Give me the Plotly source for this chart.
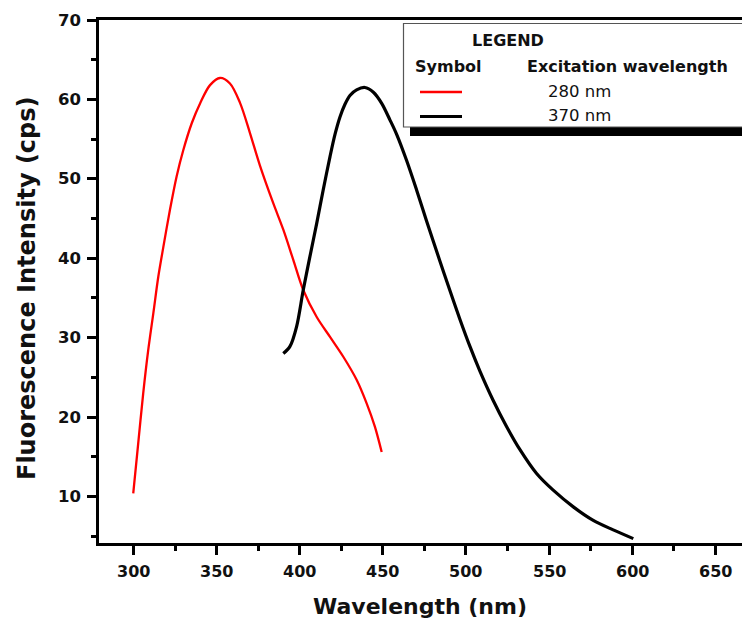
import plotly.graph_objects as go

# Data
wl_280 = [299.8, 302.8, 305.8, 308.8, 311.9, 314.9, 317.9, 321.9, 325.9, 329.9, 335.0, 340.0,
          346.0, 352.0, 358.0, 364.0, 370.0, 376.0, 384.1, 390.1, 396.1, 402.1, 410.2, 418.2,
          426.2, 434.2, 440.3, 445.2, 449.3]
int_280 = [10.4, 16.7, 23.0, 28.4, 33.1, 37.7, 41.4, 46.1, 50.3, 53.6, 57.0, 59.5,
           61.8, 62.7, 62.0, 59.6, 55.8, 51.7, 46.9, 43.6, 39.8, 36.0, 32.6, 30.1,
           27.6, 24.7, 21.7, 18.8, 15.6]

wl_370 = [390.1, 394.1, 398.1, 402.1, 406.1, 410.2, 414.1, 418.2, 421.2, 424.2, 427.2, 430.2,
          434.2, 439.2, 444.3, 449.3, 454.3, 458.3, 464.3, 470.3, 476.3, 484.4, 490.4, 496.4,
          502.4, 508.4, 516.4, 524.5, 532.5, 542.5, 552.5, 564.6, 576.6, 588.6, 600.7]
int_370 = [28.0, 28.9, 31.4, 36.0, 40.2, 44.4, 48.6, 52.8, 55.6, 57.8, 59.4, 60.5,
           61.2, 61.5, 60.9, 59.5, 57.4, 55.6, 52.3, 48.6, 44.7, 39.6, 35.9, 32.3,
           28.9, 25.8, 22.1, 18.8, 15.9, 12.9, 10.8, 8.7, 7.0, 5.8, 4.7]

x_ticks = [300, 350, 400, 450, 500, 550, 600, 650]
y_ticks = [10, 20, 30, 40, 50, 60, 70]

W, H = 742, 622
L, R, T, B = 99, 0, 20, 79
PW, PH = W - L - R, H - T - B

def px(x):
    return (x - L) / PW

def py(y):
    return (H - B - y) / PH

FONT = "DejaVu Sans, Arial, sans-serif"
INK = "#111111"

fig = go.Figure()
fig.add_trace(go.Scatter(x=wl_280, y=int_280, mode="lines",
                         line=dict(color="#ff0000", width=2.3, shape="spline", smoothing=0.9),
                         name="280 nm", showlegend=False))
fig.add_trace(go.Scatter(x=wl_370, y=int_370, mode="lines",
                         line=dict(color="#000000", width=3.2, shape="spline", smoothing=0.9),
                         name="370 nm", showlegend=False))

axis_common = dict(showgrid=False, zeroline=False, showline=True, linecolor="black", linewidth=3,
                   ticks="outside", ticklen=9, tickwidth=2.5, tickcolor="black",
                   showticklabels=False)

fig.update_xaxes(range=[279.2, 666.1], tickvals=x_ticks, mirror=True,
                 minor=dict(ticks="outside", ticklen=5, tickwidth=2.5, dtick=25, tick0=0, tickcolor="black"),
                 **axis_common)
fig.update_yaxes(range=[4.15, 70], tickvals=y_ticks,
                 minor=dict(ticks="outside", ticklen=5, tickwidth=2.5, dtick=5, tick0=0, tickcolor="black"),
                 **axis_common)

shapes = [
    # legend shadow bar
    dict(type="rect", xref="paper", yref="paper", x0=px(410), x1=px(745), y0=py(136), y1=py(126),
         fillcolor="black", line=dict(width=0), layer="above"),
    # legend box
    dict(type="rect", xref="paper", yref="paper", x0=px(403.5), x1=px(745), y0=py(127), y1=py(23.5),
         fillcolor="white", line=dict(color="#555", width=1.2), layer="above"),
    # legend sample lines
    dict(type="line", xref="paper", yref="paper", x0=px(420), x1=px(462), y0=py(92), y1=py(92),
         line=dict(color="#ff0000", width=2.5), layer="above"),
    dict(type="line", xref="paper", yref="paper", x0=px(420), x1=px(462), y0=py(116.5), y1=py(116.5),
         line=dict(color="black", width=3), layer="above"),
]

annots = []
def txt(text, x, y, bold=False, size=16, anchor="left", angle=0):
    annots.append(dict(text=("<b>%s</b>" % text) if bold else text, x=px(x), y=py(y),
                       xref="paper", yref="paper",
                       xanchor=anchor, yanchor="middle", showarrow=False, textangle=angle,
                       font=dict(family=FONT, size=size, color=INK)))

txt("LEGEND", 470, 40, bold=True, size=16)
txt("Symbol", 413, 66, bold=True, size=16)
txt("Excitation wavelength", 525, 66, bold=True, size=16)
txt("280 nm", 546, 91, size=16.5)
txt("370 nm", 546, 115.5, size=16.5)

# bold tick labels placed through the axes' own scales
for v in x_ticks:
    annots.append(dict(text="<b>%d</b>" % v, x=v, xref="x", y=py(571), yref="paper",
                       xanchor="center", yanchor="middle", showarrow=False,
                       font=dict(family=FONT, size=16, color=INK)))
for v in y_ticks:
    annots.append(dict(text="<b>%d</b>" % v, x=px(83), xref="paper", y=v, yref="y",
                       xanchor="right", yanchor="middle", showarrow=False,
                       font=dict(family=FONT, size=16.5, color=INK)))

# axis titles
txt("Wavelength (nm)", 420, 606, bold=True, size=22, anchor="center")
txt("Fluorescence Intensity (cps)", 27, 288, bold=True, size=24, anchor="center", angle=-90)

fig.update_layout(width=W, height=H, margin=dict(l=L, r=R, t=T, b=B),
                  plot_bgcolor="white", paper_bgcolor="white", showlegend=False,
                  shapes=shapes, annotations=annots)

fig.write_html("out.html")
